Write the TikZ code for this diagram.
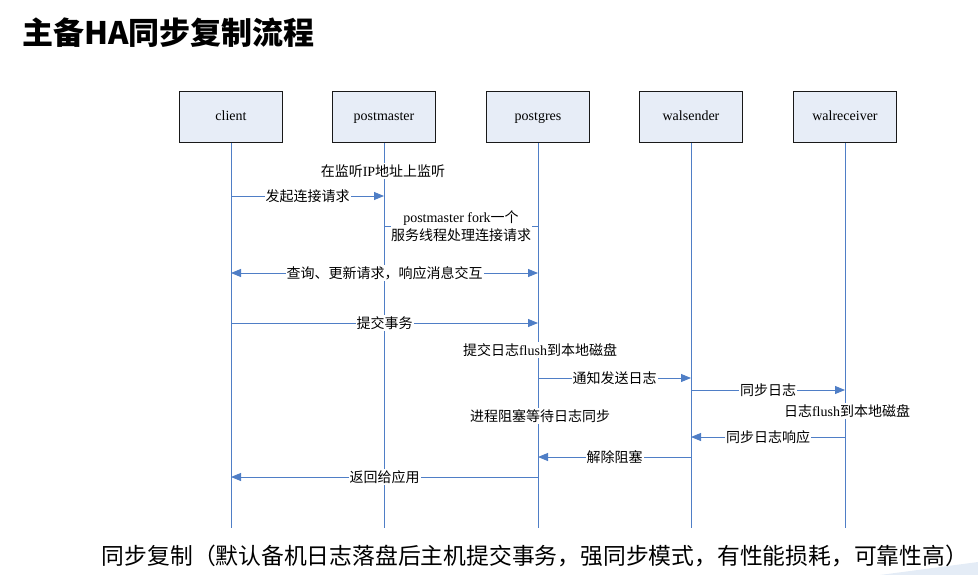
\documentclass[tikz,border=0pt]{standalone}
\usepackage{fontspec}
\setmainfont{Liberation Serif}
\newfontfamily\cjk{Noto Sans CJK SC}
\usetikzlibrary{arrows.meta}
\definecolor{lineblue}{HTML}{4F7EC6}
\definecolor{boxfill}{HTML}{E7EDF7}
\tikzset{
  actor/.style={draw=black!90, line width=0.9pt, fill=boxfill, minimum width=103pt, minimum height=51pt, inner sep=0pt, text height=9.5pt, text depth=3pt, font=\fontsize{14}{16}\selectfont},
  life/.style={draw=lineblue, line width=0.9pt},
  msg/.style={draw=lineblue, line width=0.9pt, -{Triangle[length=10pt,width=8pt]}},
  dmsg/.style={draw=lineblue, line width=0.9pt, {Triangle[length=10pt,width=8pt]}-{Triangle[length=10pt,width=8pt]}},
  plain/.style={draw=lineblue, line width=0.9pt},
  lbl/.style={fill=white, inner sep=1pt, font=\fontsize{14}{17}\selectfont},
  note/.style={fill=white, inner sep=1.5pt, font=\fontsize{14}{17}\selectfont, align=center},
}
\begin{document}
\begin{tikzpicture}[x=1pt,y=-1pt]
\useasboundingbox (0,0) rectangle (978,575);
% corner decorations
\fill[lineblue!60!cyan] (0,0) -- (5,0) arc[start angle=0,end angle=-90,radius=5] -- cycle;
\fill[lineblue!15] (880,575) -- (978,562) -- (978,575) -- cycle;
% title
\node[anchor=west, inner sep=0pt, font=\cjk\bfseries\fontsize{31}{34}\selectfont] (title) at (22,33) {主备HA同步复制流程};
% actors
\node[actor] (client) at (231,117) {client};
\node[actor] (pm) at (384,117) {postmaster};
\node[actor] (pg) at (538,117) {postgres};
\node[actor] (ws) at (691,117) {walsender};
\node[actor] (wr) at (845,117) {walreceiver};
% lifeline ends
\coordinate (clientE) at (231,528);
\coordinate (pmE) at (384,528);
\coordinate (pgE) at (538,528);
\coordinate (wsE) at (691,528);
\coordinate (wrE) at (845,528);
\draw[life] (client.south) -- (clientE);
\draw[life] (pm.south) -- (pmE);
\draw[life] (pg.south) -- (pgE);
\draw[life] (ws.south) -- (wsE);
\draw[life] (wr.south) -- (wrE);
% notes
\node[note] (n1) at (383,171) {{\cjk 在监听}IP{\cjk 地址上监听}};
\node[note] (n2) at (540,350) {{\cjk 提交日志}flush{\cjk 到本地磁盘}};
\node[note] (n3) at (540,416) {{\cjk 进程阻塞等待日志同步}};
\node[note] (n4) at (847,411) {{\cjk 日志}flush{\cjk 到本地磁盘}};
% messages
\draw[msg] (client |- 0,196) -- node[lbl, pos=0.5]{\cjk 发起连接请求} (pm |- 0,196);
\draw[plain] (pm |- 0,226) -- node[note, inner sep=0.5pt, font=\fontsize{14}{18}\selectfont]{postmaster fork{\cjk 一个}\\{\cjk 服务线程处理连接请求}} (pg |- 0,226);
\draw[dmsg] (client |- 0,273) -- node[lbl, pos=0.5]{\cjk 查询、更新请求，响应消息交互} (pg |- 0,273);
\draw[msg] (client |- 0,323) -- node[lbl, pos=0.5]{\cjk 提交事务} (pg |- 0,323);
\draw[msg] (pg |- 0,378) -- node[lbl, pos=0.5]{\cjk 通知发送日志} (ws |- 0,378);
\draw[msg] (ws |- 0,390) -- node[lbl, pos=0.5]{\cjk 同步日志} (wr |- 0,390);
\draw[msg] (wr |- 0,437) -- node[lbl, pos=0.5]{\cjk 同步日志响应} (ws |- 0,437);
\draw[msg] (ws |- 0,457) -- node[lbl, pos=0.5]{\cjk 解除阻塞} (pg |- 0,457);
\draw[msg] (pg |- 0,477) -- node[lbl, pos=0.5]{\cjk 返回给应用} (client |- 0,477);
% caption
\node[inner sep=0pt, font=\cjk\fontsize{22.8}{26}\selectfont] (cap) at (535,556) {同步复制（默认备机日志落盘后主机提交事务，强同步模式，有性能损耗，可靠性高）};
\end{tikzpicture}
\end{document}
